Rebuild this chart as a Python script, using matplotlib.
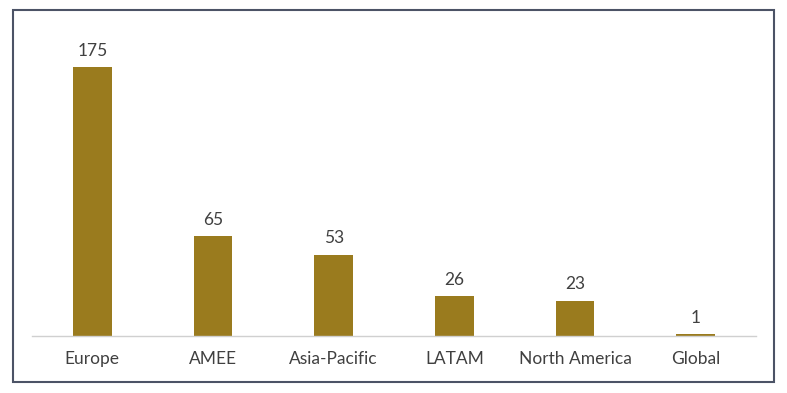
import matplotlib.pyplot as plt
from matplotlib.patches import Rectangle

# Data
regions = ["Europe", "AMEE", "Asia-Pacific", "LATAM", "North America", "Global"]
counts = [175, 65, 53, 26, 23, 1]

bar_color = "#9a7b1e"
text_color = "#404040"

plt.rcParams["font.family"] = ["Lato", "DejaVu Sans"]

fig = plt.figure(figsize=(7.87, 3.93), dpi=100)
ax = fig.add_axes([32 / 787, 1 - 336 / 393, 724 / 787, 306 / 393])

bars = ax.bar(regions, counts, width=0.32, color=bar_color)
for bar, val in zip(bars, counts):
    ax.annotate(f"{val}", (bar.get_x() + bar.get_width() / 2, bar.get_height()),
                xytext=(0, 6), textcoords="offset points",
                ha="center", va="bottom", fontsize=12.5, color=text_color)

ax.set_xlim(-0.5, len(regions) - 0.5)
ax.set_ylim(0, 199)
ax.set_yticks([])
for side in ["top", "right", "left"]:
    ax.spines[side].set_visible(False)
ax.spines["bottom"].set_color("#d0d0d0")
ax.spines["bottom"].set_linewidth(1)
ax.tick_params(axis="x", length=0, pad=11, labelsize=12.5, labelcolor=text_color)

# frame around the chart
fig.patches.append(Rectangle((13 / 787, 1 - 382 / 393), 761 / 787, 372 / 393,
                             transform=fig.transFigure, fill=False,
                             edgecolor="#4c5366", linewidth=1.5))

fig.savefig("out.png", dpi=100, facecolor="white")
